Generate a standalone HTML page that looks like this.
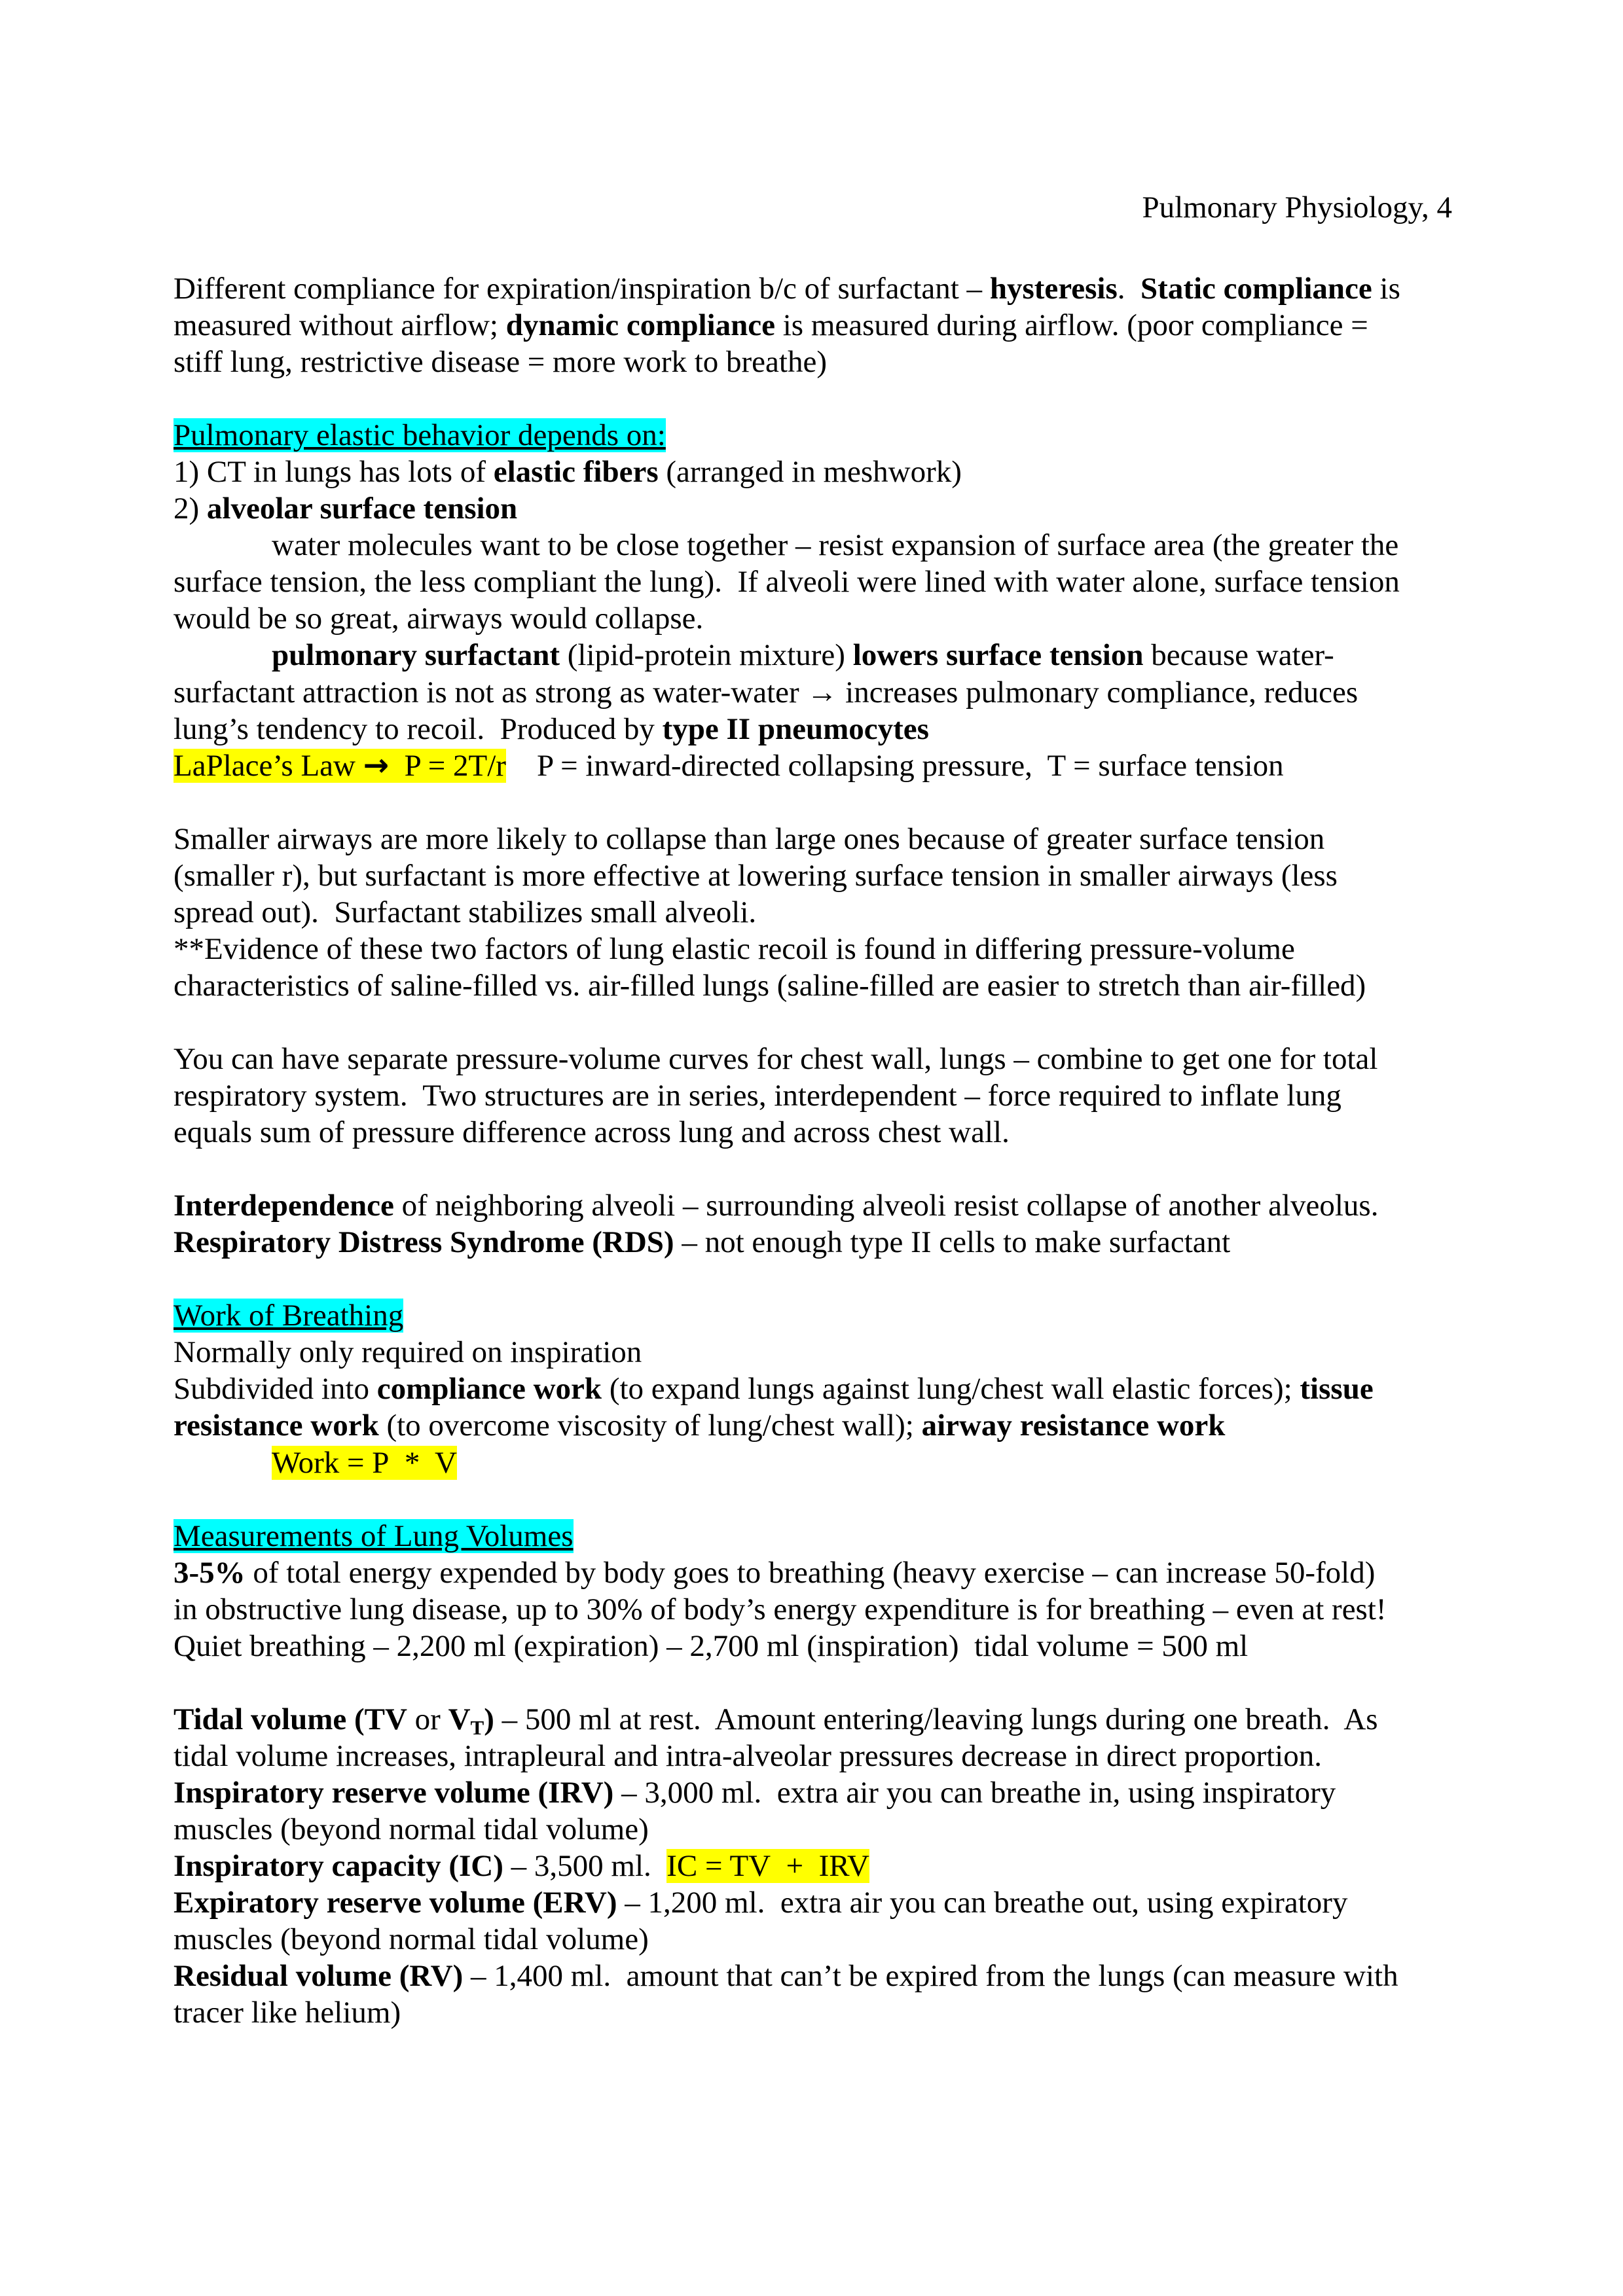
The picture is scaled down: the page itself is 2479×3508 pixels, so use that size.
<!DOCTYPE html>
<html><head><meta charset="utf-8"><style>
html,body{margin:0;padding:0;background:#fff;}
body{width:2479px;height:3508px;position:relative;overflow:hidden;font-family:"Liberation Serif","Times New Roman",serif;font-size:47px;color:#000;}
.hdr{position:absolute;top:289px;right:261px;line-height:56px;white-space:nowrap;}
.blk{position:absolute;top:413px;left:265px;line-height:56.05px;}
.blk div{white-space:nowrap;height:56.05px;}
.in{padding-left:150px;}
.c{background:#00ffff;text-decoration:underline;}
.y{background:#ffff00;}
.ar{font-family:"DejaVu Sans",sans-serif;font-weight:bold;}
sub{font-size:31px;line-height:0;vertical-align:-8px;}
</style></head><body>
<div class="hdr">Pulmonary Physiology, 4</div>
<div class="blk">
<div>Different compliance for expiration/inspiration b/c of surfactant – <b>hysteresis</b>.&nbsp; <b>Static compliance</b> is</div>
<div>measured without airflow; <b>dynamic compliance</b> is measured during airflow. (poor compliance =</div>
<div>stiff lung, restrictive disease = more work to breathe)</div>
<div></div>
<div><span class="c">Pulmonary elastic behavior depends on:</span></div>
<div>1) CT in lungs has lots of <b>elastic fibers</b> (arranged in meshwork)</div>
<div>2) <b>alveolar surface tension</b></div>
<div class="in">water molecules want to be close together – resist expansion of surface area (the greater the</div>
<div>surface tension, the less compliant the lung).&nbsp; If alveoli were lined with water alone, surface tension</div>
<div>would be so great, airways would collapse.</div>
<div class="in"><b>pulmonary surfactant</b> (lipid-protein mixture) <b>lowers surface tension</b> because water-</div>
<div>surfactant attraction is not as strong as water-water → increases pulmonary compliance, reduces</div>
<div>lung’s tendency to recoil.&nbsp; Produced by <b>type II pneumocytes</b></div>
<div><span class="y">LaPlace’s Law <span class="ar">→</span>&nbsp; P = 2T/r</span>&nbsp;&nbsp;&nbsp; P = inward-directed collapsing pressure,&nbsp; T = surface tension</div>
<div></div>
<div>Smaller airways are more likely to collapse than large ones because of greater surface tension</div>
<div>(smaller r), but surfactant is more effective at lowering surface tension in smaller airways (less</div>
<div>spread out).&nbsp; Surfactant stabilizes small alveoli.</div>
<div>**Evidence of these two factors of lung elastic recoil is found in differing pressure-volume</div>
<div>characteristics of saline-filled vs. air-filled lungs (saline-filled are easier to stretch than air-filled)</div>
<div></div>
<div>You can have separate pressure-volume curves for chest wall, lungs – combine to get one for total</div>
<div>respiratory system.&nbsp; Two structures are in series, interdependent – force required to inflate lung</div>
<div>equals sum of pressure difference across lung and across chest wall.</div>
<div></div>
<div><b>Interdependence</b> of neighboring alveoli – surrounding alveoli resist collapse of another alveolus.</div>
<div><b>Respiratory Distress Syndrome (RDS)</b> – not enough type II cells to make surfactant</div>
<div></div>
<div><span class="c">Work of Breathing</span></div>
<div>Normally only required on inspiration</div>
<div>Subdivided into <b>compliance work</b> (to expand lungs against lung/chest wall elastic forces); <b>tissue</b></div>
<div><b>resistance work</b> (to overcome viscosity of lung/chest wall); <b>airway resistance work</b></div>
<div class="in"><span class="y">Work = P&nbsp; *&nbsp; V</span></div>
<div></div>
<div><span class="c">Measurements of Lung Volumes</span></div>
<div><b>3-5%</b> of total energy expended by body goes to breathing (heavy exercise – can increase 50-fold)</div>
<div>in obstructive lung disease, up to 30% of body’s energy expenditure is for breathing – even at rest!</div>
<div>Quiet breathing – 2,200 ml (expiration) – 2,700 ml (inspiration)&nbsp; tidal volume = 500 ml</div>
<div></div>
<div><b>Tidal volume (TV</b> or <b>V<sub>T</sub>)</b> – 500 ml at rest.&nbsp; Amount entering/leaving lungs during one breath.&nbsp; As</div>
<div>tidal volume increases, intrapleural and intra-alveolar pressures decrease in direct proportion.</div>
<div><b>Inspiratory reserve volume (IRV)</b> – 3,000 ml.&nbsp; extra air you can breathe in, using inspiratory</div>
<div>muscles (beyond normal tidal volume)</div>
<div><b>Inspiratory capacity (IC)</b> – 3,500 ml.&nbsp; <span class="y">IC = TV&nbsp; +&nbsp; IRV</span></div>
<div><b>Expiratory reserve volume (ERV)</b> – 1,200 ml.&nbsp; extra air you can breathe out, using expiratory</div>
<div>muscles (beyond normal tidal volume)</div>
<div><b>Residual volume (RV)</b> – 1,400 ml.&nbsp; amount that can’t be expired from the lungs (can measure with</div>
<div>tracer like helium)</div>
</div>
</body></html>
